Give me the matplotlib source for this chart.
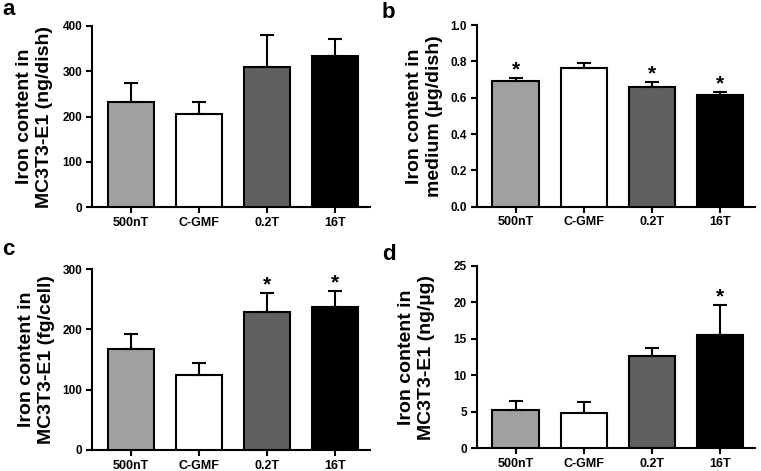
import numpy as np
import matplotlib
matplotlib.use('Agg')
import matplotlib.pyplot as plt

plt.rcParams['font.family'] = ['Liberation Sans', 'DejaVu Sans']
plt.rcParams['font.weight'] = 'bold'

groups = ['500nT', 'C-GMF', '0.2T', '16T']
colors = ['#a0a0a0', '#ffffff', '#5f5f5f', '#000000']

# panel a - iron per dish
a_mean = [233, 205, 309, 333]
a_err = [40, 26, 72, 39]
a_star = [False, False, False, False]

# panel b - iron in medium
b_mean = [0.691, 0.765, 0.660, 0.613]
b_err = [0.017, 0.025, 0.025, 0.016]
b_star = [True, False, True, True]

# panel c - iron per cell
c_mean = [167, 124, 229, 237]
c_err = [26, 21, 31, 27]
c_star = [False, False, True, True]

# panel d - iron per protein
d_mean = [5.3, 4.9, 12.6, 15.5]
d_err = [1.2, 1.4, 1.2, 4.1]
d_star = [False, False, False, True]


def draw_panel(ax, mean, err, star, ymax, ystep, ylabel, labx):
    x = np.arange(len(groups))
    ax.bar(x, mean, width=0.68, color=colors, edgecolor='black', linewidth=1.5,
           yerr=[np.zeros(len(err)), err],
           error_kw=dict(ecolor='black', elinewidth=1.5, capsize=4.8, capthick=1.5),
           zorder=3)
    for i in range(len(x)):
        if star[i]:
            ax.annotate('*', (x[i], mean[i] + err[i]), xytext=(0, -1),
                        textcoords='offset points', ha='center', va='bottom',
                        fontsize=15, fontweight='bold')
    ax.set_xlim(-0.57, 3.51)
    ax.set_ylim(0, ymax)
    ticks = np.arange(0, ymax + ystep / 2, ystep)
    ax.set_yticks(ticks)
    if ystep < 1:
        ax.set_yticklabels(['%.1f' % v for v in ticks])
    ax.set_xticks(x)
    ax.set_xticklabels(groups)
    ax.spines['top'].set_visible(False)
    ax.spines['right'].set_visible(False)
    ax.spines['left'].set_linewidth(1.5)
    ax.spines['bottom'].set_linewidth(1.5)
    ax.tick_params(axis='y', width=1.5, length=4.5, labelsize=8.5, pad=2.5)
    ax.tick_params(axis='x', width=1.5, length=4, labelsize=9, pad=3)
    ax.set_ylabel(ylabel, fontsize=14, fontweight='bold', linespacing=1.2)
    ax.yaxis.set_label_coords(labx, 0.5)


fig = plt.figure(figsize=(7.61, 4.71), dpi=100)

ax_a = fig.add_axes([92 / 761, 1 - 207 / 471, 278 / 761, 181 / 471])
ax_b = fig.add_axes([476.7 / 761, 1 - 206.7 / 471, 278.3 / 761, 181.7 / 471])
ax_c = fig.add_axes([92 / 761, 1 - 450 / 471, 278 / 761, 181 / 471])
ax_d = fig.add_axes([476.7 / 761, 1 - 448.3 / 471, 278.3 / 761, 182.6 / 471])

draw_panel(ax_a, a_mean, a_err, a_star, 400, 100,
           'Iron content in\nMC3T3-E1 (ng/dish)', -0.14)
draw_panel(ax_b, b_mean, b_err, b_star, 1.0, 0.2,
           'Iron content in\nmedium (µg/dish)', -0.121)
draw_panel(ax_c, c_mean, c_err, c_star, 300, 100,
           'Iron content in\nMC3T3-E1 (fg/cell)', -0.133)
draw_panel(ax_d, d_mean, d_err, d_star, 25, 5,
           'Iron content in\nMC3T3-E1 (ng/µg)', -0.15)

# panel letters
for lbl, px, py in [('a', 2, 15), ('b', 382, 18), ('c', 2, 255), ('d', 382, 260)]:
    fig.text(px / 761, 1 - py / 471, lbl, fontsize=16, fontweight='bold',
             ha='left', va='baseline')

fig.savefig('out.png', dpi=100)
